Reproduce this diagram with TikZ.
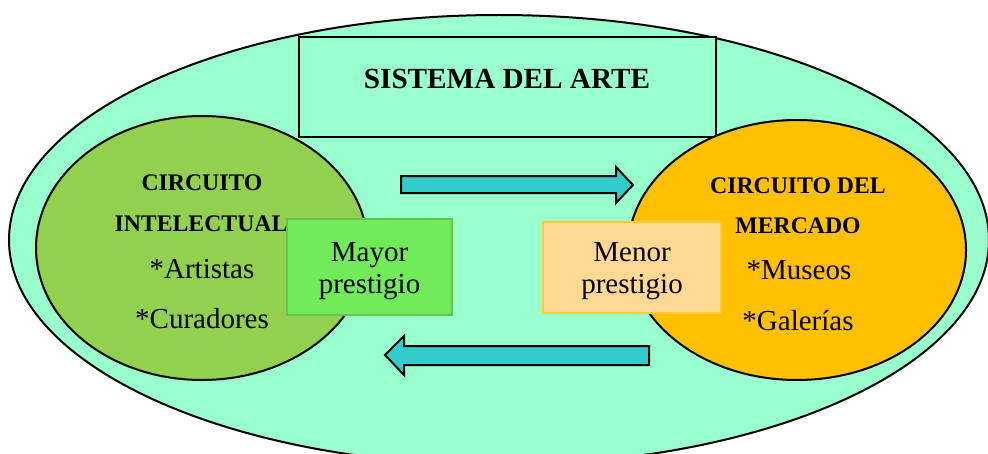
\documentclass[tikz,border=0pt]{standalone}
\usepackage{fontspec}
\setmainfont{Liberation Serif}
\usetikzlibrary{shapes.geometric}
\definecolor{mint}{HTML}{99FFCC}
\definecolor{leafgreen}{HTML}{92D050}
\definecolor{amber}{HTML}{FFC000}
\definecolor{teal}{HTML}{33CCCC}
\definecolor{brightgreen}{HTML}{72EB5A}
\definecolor{brightgreenline}{HTML}{6CC050}
\definecolor{peach}{HTML}{FFD993}
\definecolor{peachline}{HTML}{FFCC33}
\tikzset{
  oval/.style={ellipse, draw=black, line width=1.5pt, inner sep=0pt},
  hdr/.style={anchor=base, inner sep=0pt, font=\fontsize{17.8}{20}\selectfont\bfseries},
  txt/.style={anchor=base, inner sep=0pt, font=\fontsize{21.75}{24}\selectfont},
  blockarrow/.style={fill=teal, draw=black, line width=1.5pt, line join=miter},
}
\begin{document}
\begin{tikzpicture}[x=0.75pt,y=-0.75pt]
\useasboundingbox (0,0) rectangle (988,453);
\clip (0,0) rectangle (988,453);
% outer system ellipse
\node[oval, fill=mint, minimum width=735pt, minimum height=337.5pt] (system) at (499,240) {};
% title box
\node[draw=black, fill=mint, line width=2pt, inner sep=0pt, minimum width=312.75pt, minimum height=75pt] (titlebox) at (507.5,87) {};
\node[anchor=base, inner sep=0pt, font=\fontsize{21.9}{24}\selectfont\bfseries] (title) at (507,89) {SISTEMA DEL ARTE};
% circuits
\node[oval, fill=leafgreen, minimum width=249pt, minimum height=198pt] (intel) at (202,248) {};
\node[oval, fill=amber, minimum width=253.5pt, minimum height=195pt] (market) at (797,250) {};
% arrows
\draw[blockarrow] (401,176) -- (616,176) -- (616,167) -- (633,185) -- (616,203) -- (616,193) -- (401,193) -- cycle;
\draw[blockarrow] (649,346) -- (404,346) -- (404,336) -- (385,355) -- (404,375) -- (404,365) -- (649,365) -- cycle;
% left texts
\node[hdr] (l1) at (202,190) {CIRCUITO};
\node[hdr] (l2) at (201,231) {INTELECTUAL};
\node[txt] (l3) at (202,278) {*Artistas};
\node[txt] (l4) at (202,328) {*Curadores};
% right texts
\node[hdr] (r1) at (798,193) {CIRCUITO DEL};
\node[hdr] (r2) at (798,233) {MERCADO};
\node[txt] (r3) at (799,279) {*Museos};
\node[txt] (r4) at (798,330) {*Galerías};
% prestige boxes
\node[draw=brightgreenline, fill=brightgreen, line width=0.8pt, inner sep=0pt, minimum width=123.75pt, minimum height=72pt] (mayorbox) at (369.5,267) {};
\node[txt] (m1) at (369.5,261) {Mayor};
\node[txt] (m2) at (369.5,293) {prestigio};
\node[draw=peachline, fill=peach, line width=0.8pt, inner sep=0pt, minimum width=133.5pt, minimum height=68.25pt] (menorbox) at (632,267.5) {};
\node[txt] (n1) at (632,261) {Menor};
\node[txt] (n2) at (632,293) {prestigio};
\end{tikzpicture}
\end{document}
